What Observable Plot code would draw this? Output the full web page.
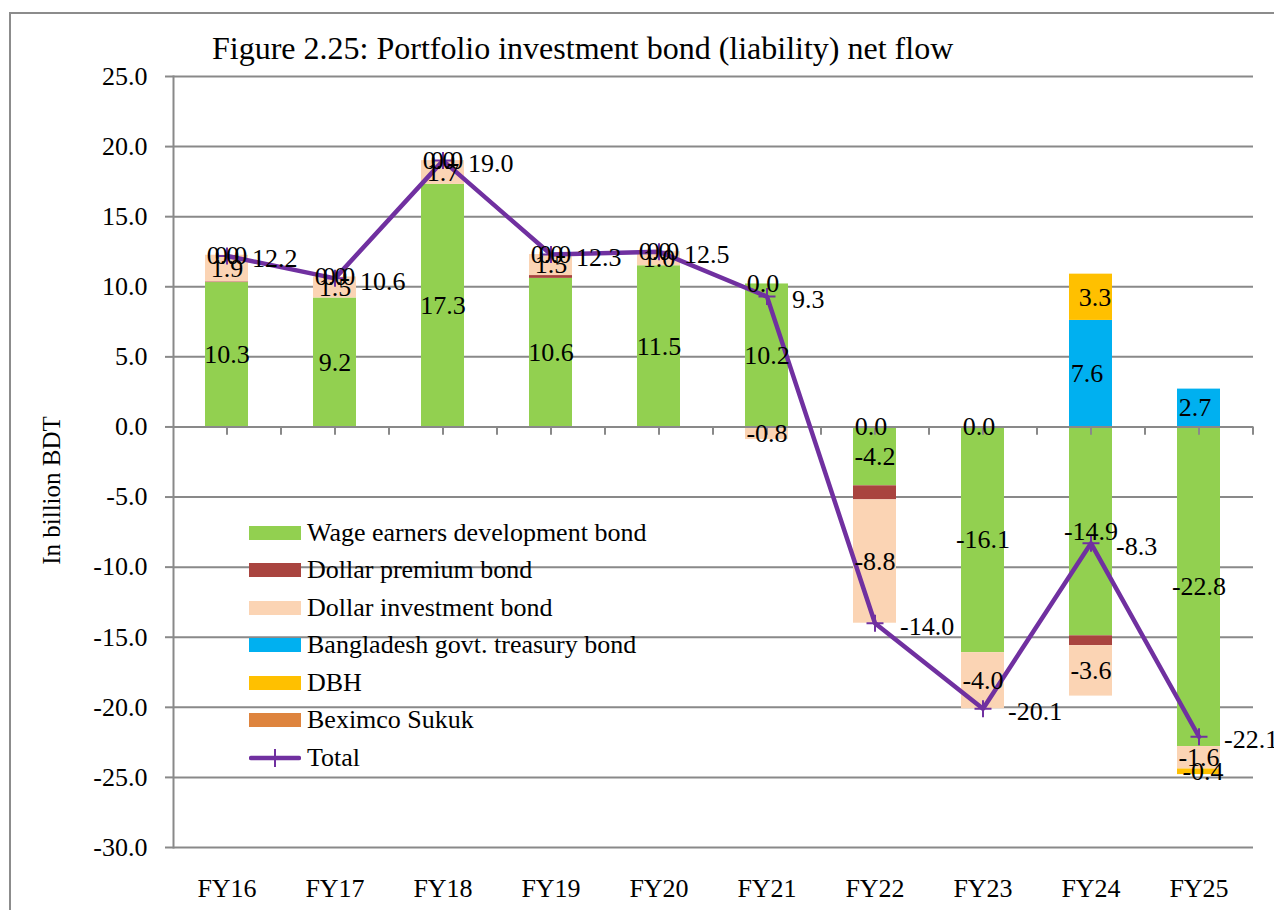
<!DOCTYPE html>
<html><head><meta charset="utf-8">
<script src="https://cdn.jsdelivr.net/npm/d3@7"></script>
<script src="https://cdn.jsdelivr.net/npm/@observablehq/plot@0.6"></script>
<style>
body{margin:0;background:#fff;font-family:"Liberation Serif","Times New Roman",serif;}
#wrap{position:relative;width:1274px;height:910px;overflow:hidden;background:#fff}
#border{position:absolute;left:9px;top:12px;width:1400px;height:1000px;border:2px solid #8c8c8c;box-sizing:border-box}
#title{position:absolute;left:212px;top:32px;font-size:32px;line-height:32px;white-space:nowrap;color:#000}
#chart{position:absolute;left:0;top:60px}
#legend{position:absolute;left:249px;top:514px;font-size:26px;color:#000}
.row{height:37.5px;display:flex;align-items:center;white-space:nowrap}
.sw{width:52px;height:14px;margin-right:6px;flex:none}
</style></head><body>
<div id="wrap"><div id="border"></div><div id="title"></div><div id="chart"></div><div id="legend"></div></div>
<script>
const titleText = "Figure 2.25: Portfolio investment bond (liability) net flow";
const yLabel = "In billion BDT";
const cats = ["FY16","FY17","FY18","FY19","FY20","FY21","FY22","FY23","FY24","FY25"];
const yTicks = [-30,-25,-20,-15,-10,-5,0,5,10,15,20,25];

const seriesNames = ["Wage earners development bond","Dollar premium bond","Dollar investment bond","Bangladesh govt. treasury bond","DBH","Beximco Sukuk"];
const seriesColors = ["#92D050","#A9443F","#FBD4B4","#00B0F0","#FFC000","#DE843E"];
const totalName = "Total";
const totalColor = "#7030A0";

const wage     = [10.3, 9.2, 17.3, 10.6, 11.5, 10.2, -4.2, -16.1, -14.9, -22.8];
const dpb      = [0.05, 0, 0, 0.2, -0.05, -0.1, -1.0, 0, -0.7, 0];
const dib      = [1.9, 1.5, 1.7, 1.5, 1.0, -0.8, -8.8, -4.0, -3.6, -1.6];
const treasury = [0, 0, 0, 0, 0, 0, 0, 0, 7.6, 2.7];
const dbh      = [0, 0, 0, 0, 0, 0, 0, 0, 3.3, -0.4];
const beximco  = [0, 0, 0, 0, 0, 0, 0, 0, 0, 0];
const total    = [12.2, 10.6, 19.0, 12.3, 12.5, 9.3, -14.0, -20.1, -8.3, -22.1];

// which segment value labels are displayed
const wageShow     = [1,1,1,1,1,1,1,1,1,1];
const dpbShow      = [0,0,0,0,0,0,0,0,0,0];
const dibShow      = [1,1,1,1,1,1,1,1,1,1];
const treasuryShow = [1,1,1,1,1,1,1,1,1,1];
const dbhShow      = [1,1,1,1,1,0,0,0,1,1];
const beximcoShow  = [0,0,0,0,0,0,0,0,0,0];

const seriesValues = [wage, dpb, dib, treasury, dbh, beximco];
const seriesShow = [wageShow, dpbShow, dibShow, treasuryShow, dbhShow, beximcoShow];

const rows = [];
seriesNames.forEach((s, si) => cats.forEach((c, ci) => rows.push({cat: c, series: s, si, value: seriesValues[si][ci], show: seriesShow[si][ci]})));
const totals = cats.map((c, i) => ({cat: c, total: total[i]}));

const font = "Liberation Serif";
const plusSymbol = {draw(ctx, size) { const s = Math.sqrt(size / Math.PI); ctx.moveTo(-s, 0); ctx.lineTo(s, 0); ctx.moveTo(0, -s); ctx.lineTo(0, s); }};
const lab = (si) => d => (d.si === si && d.show) ? d.value.toFixed(1) : null;
const stackText = (si, dx) => Plot.text(rows, Plot.stackY({x: "cat", y: "value", text: lab(si), dx, fontSize: 26, fill: "#000", fontFamily: font}));

const chart = Plot.plot({
  width: 1274, height: 850,
  marginTop: 16, marginBottom: 63, marginLeft: 173, marginRight: 21,
  style: {fontFamily: font, fontSize: "26px", color: "#000", background: "transparent"},
  x: {type: "band", domain: cats, paddingInner: 0.6, paddingOuter: 0.3},
  y: {domain: [-30, 25]},
  color: {domain: seriesNames, range: seriesColors},
  marks: [
    Plot.gridY(yTicks, {stroke: "#898989", strokeOpacity: 1, strokeWidth: 2}),
    Plot.frame({anchor: "left", stroke: "#898989", strokeWidth: 2}),
    Plot.barY(rows, {x: "cat", y: "value", fill: "series"}),
    Plot.ruleY([0], {stroke: "#898989", strokeWidth: 2}),
    Plot.ruleX(cats, {x: d => d, y1: 0, y2: -0.6, stroke: "#898989", strokeWidth: 2}),
    Plot.ruleX(cats, {x: d => d, y1: 0, y2: -0.6, dx: 54, stroke: "#898989", strokeWidth: 2}),
    Plot.axisY({ticks: yTicks, tickFormat: d => d.toFixed(1), tickSize: 8, tickPadding: 18, label: null, stroke: "#898989", strokeWidth: 2, fontSize: 26}),
    Plot.axisX({tickSize: 0, tickPadding: 31, label: null, fontSize: 26}),
    Plot.text([yLabel], {frameAnchor: "left", textAnchor: "middle", rotate: -90, dx: -122, dy: 28.5, fontSize: 25, fill: "#000"}),
    Plot.line(totals, {x: "cat", y: "total", stroke: totalColor, strokeWidth: 4.5}),
    Plot.dot(totals, {x: "cat", y: "total", symbol: plusSymbol, r: 8.5, stroke: totalColor, strokeWidth: 2, fill: "none"}),
    stackText(0, 0),
    stackText(2, 0),
    stackText(3, -4),
    stackText(4, 4),
    Plot.text(totals, {x: "cat", y: "total", text: d => d.total.toFixed(1), textAnchor: "start", dx: 25, dy: 3, fontSize: 26, fill: "#000"})
  ]
});
document.getElementById("chart").appendChild(chart);
document.getElementById("title").textContent = titleText;

const legend = document.getElementById("legend");
seriesNames.forEach((s, i) => {
  const r = document.createElement("div"); r.className = "row";
  r.innerHTML = `<div class="sw" style="background:${seriesColors[i]}"></div><span>${s}</span>`;
  legend.appendChild(r);
});
const tr = document.createElement("div"); tr.className = "row";
tr.innerHTML = `<svg width="52" height="20" style="margin-right:6px;flex:none"><line x1="2" x2="50" y1="10" y2="10" stroke="${totalColor}" stroke-width="4.5" stroke-linecap="round"/><line x1="26" x2="26" y1="1" y2="19" stroke="${totalColor}" stroke-width="2"/></svg><span>${totalName}</span>`;
legend.appendChild(tr);
</script>
</body></html>
